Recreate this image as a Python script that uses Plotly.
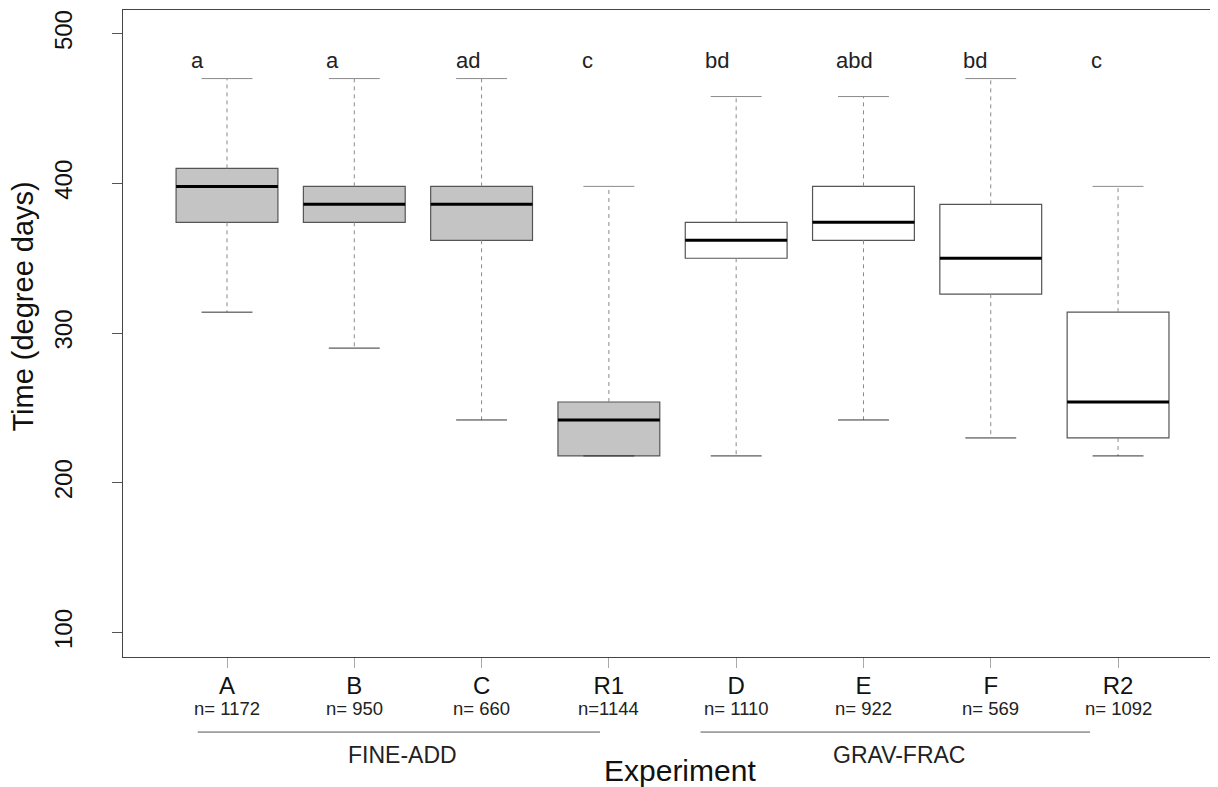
import plotly.graph_objects as go

# ---- data ----
experiments = ["A", "B", "C", "R1", "D", "E", "F", "R2"]
lower_whisker = [314, 290, 242, 218, 218, 242, 230, 218]
q1_values = [374, 374, 362, 218, 350, 362, 326, 230]
medians = [398, 386, 386, 242, 362, 374, 350, 254]
q3_values = [410, 398, 398, 254, 374, 398, 386, 314]
upper_whisker = [470, 470, 470, 398, 458, 458, 470, 398]
n_labels = ["n= 1172", "n= 950", "n= 660", "n=1144", "n= 1110", "n= 922", "n= 569", "n= 1092"]
letters = ["a", "a", "ad", "c", "bd", "abd", "bd", "c"]
groups = ["FINE-ADD", "FINE-ADD", "FINE-ADD", "FINE-ADD",
          "GRAV-FRAC", "GRAV-FRAC", "GRAV-FRAC", "GRAV-FRAC"]
y_ticks = [100, 200, 300, 400, 500]

# ---- style ----
FONT = "Liberation Sans, Arial, sans-serif"
GRAY_FILL = "#c4c4c4"
fills = [GRAY_FILL if g == "FINE-ADD" else "#ffffff" for g in groups]
letter_offset = [-0.23, -0.17, -0.11, -0.17, -0.15, -0.07, -0.12, -0.17]
group_line_offsets = {"FINE-ADD": (-0.23, -0.07), "GRAV-FRAC": (-0.28, -0.22)}
xs = list(range(1, len(experiments) + 1))

fig = go.Figure()

# whiskers (dashed)
for i, x in enumerate(xs):
    fig.add_trace(go.Scatter(
        x=[x, x, None, x, x],
        y=[q3_values[i], upper_whisker[i], None, q1_values[i], lower_whisker[i]],
        mode="lines", line=dict(color="#8a8a8a", width=1, dash="4px,4px"),
        hoverinfo="skip", showlegend=False))

# boxes
for i, x in enumerate(xs):
    fig.add_trace(go.Box(
        x=[x], q1=[q1_values[i]], median=[medians[i]], q3=[q3_values[i]],
        lowerfence=[q1_values[i]], upperfence=[q3_values[i]],
        width=0.8, whiskerwidth=0, fillcolor=fills[i],
        line=dict(color="#555555", width=1.2), showlegend=False,
        name=experiments[i]))

# medians and caps
for i, x in enumerate(xs):
    fig.add_trace(go.Scatter(
        x=[x - 0.4, x + 0.4], y=[medians[i], medians[i]],
        mode="lines", line=dict(color="#000000", width=3),
        hoverinfo="skip", showlegend=False))
    fig.add_trace(go.Scatter(
        x=[x - 0.2, x + 0.2], y=[upper_whisker[i], upper_whisker[i]],
        mode="lines", line=dict(color="#8a8a8a", width=1),
        hoverinfo="skip", showlegend=False))
    fig.add_trace(go.Scatter(
        x=[x - 0.2, x + 0.2], y=[lower_whisker[i], lower_whisker[i]],
        mode="lines", line=dict(color="#333333", width=1),
        hoverinfo="skip", showlegend=False))

annotations = []
# significance letters
for i, x in enumerate(xs):
    annotations.append(dict(
        x=x + letter_offset[i], y=482, xref="x", yref="y", text=letters[i],
        showarrow=False, font=dict(family=FONT, size=22, color="#222222"),
        xanchor="center", yanchor="middle"))
# n labels
for i, x in enumerate(xs):
    annotations.append(dict(
        x=x, y=-0.079, xref="x", yref="paper", text=n_labels[i],
        showarrow=False, font=dict(family=FONT, size=18.5, color="#222222"),
        xanchor="center", yanchor="middle"))

# group lines and names
group_names = []
for g in groups:
    if g not in group_names:
        group_names.append(g)
shapes = []
for g in group_names:
    idx = [xs[i] for i in range(len(xs)) if groups[i] == g]
    lo, hi = group_line_offsets[g]
    x0, x1 = min(idx) + lo, max(idx) + hi
    shapes.append(dict(type="line", xref="x", yref="paper", x0=x0, x1=x1,
                       y0=-0.116, y1=-0.116, line=dict(color="#555555", width=1)))
    annotations.append(dict(
        x=(x0 + x1) / 2 + 0.03, y=-0.152, xref="x", yref="paper", text=g,
        showarrow=False, font=dict(family=FONT, size=23, color="#222222"),
        xanchor="center", yanchor="middle"))

# axis titles
annotations.append(dict(
    x=0.505, y=-0.175, xref="paper", yref="paper", text="Experiment",
    showarrow=False, font=dict(family=FONT, size=30, color="#111111"),
    xanchor="center", yanchor="middle"))
annotations.append(dict(
    x=-0.091, y=0.541, xref="paper", yref="paper", text="Time (degree days)",
    showarrow=False, textangle=-90, font=dict(family=FONT, size=29, color="#111111"),
    xanchor="center", yanchor="middle"))

# page body has an 8px margin, so the figure is sized/offset to compensate
fig.update_layout(
    width=1218, height=779,
    margin=dict(l=115, r=0, t=2, b=130),
    paper_bgcolor="white", plot_bgcolor="white",
    font=dict(family=FONT, color="#111111"),
    showlegend=False,
    annotations=annotations,
    shapes=shapes,
    xaxis=dict(
        range=[0.183, 8.848], tickmode="array", tickvals=xs, ticktext=experiments,
        showgrid=False, zeroline=False, showline=True, mirror=True,
        linecolor="#444444", linewidth=1,
        ticks="outside", ticklen=10, tickcolor="#aaaaaa", tickwidth=1,
        ticklabelstandoff=-3,
        tickfont=dict(family=FONT, size=24, color="#111111"),
    ),
    yaxis=dict(
        range=[83.7, 515.8], tickmode="array", tickvals=y_ticks,
        ticktext=[str(v) for v in y_ticks],
        showgrid=False, zeroline=False, showline=True, mirror=False,
        linecolor="#444444", linewidth=1,
        ticks="outside", ticklen=10, tickcolor="#555555", tickwidth=1,
        tickangle=-90, ticklabelstandoff=30,
        tickfont=dict(family=FONT, size=24, color="#111111"),
    ),
)

fig.write_html("out.html")
